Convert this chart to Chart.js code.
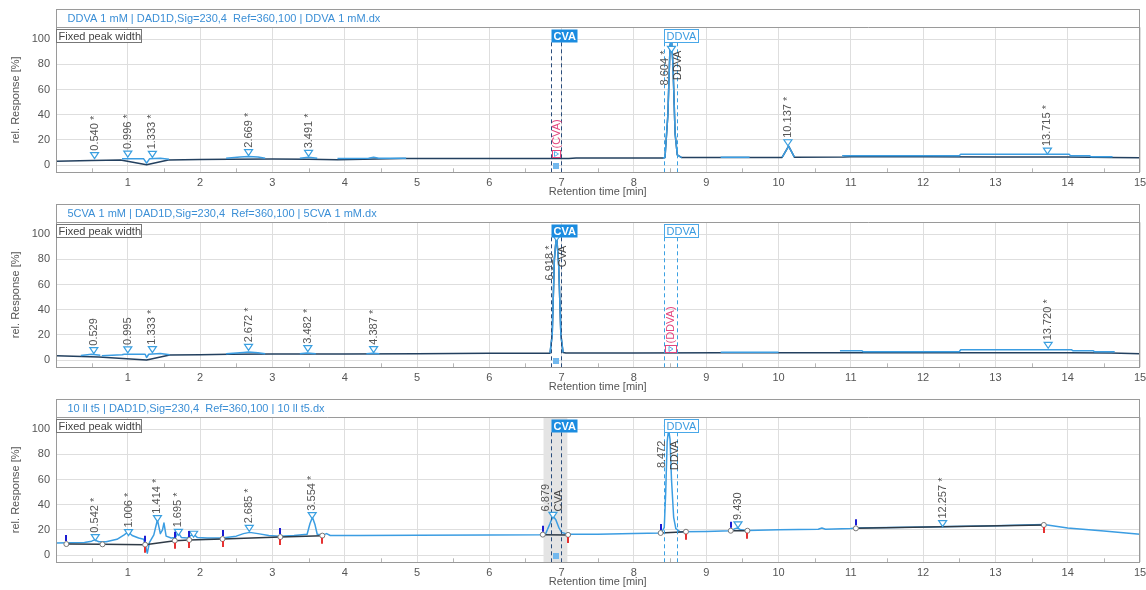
<!DOCTYPE html>
<html>
<head>
<meta charset="utf-8">
<script src="https://cdn.jsdelivr.net/npm/chart.js@4.4.1/dist/chart.umd.min.js"></script>
<style>
  html, body { margin: 0; padding: 0; background: #fff; }
  body { width: 1146px; height: 590px; position: relative; overflow: hidden; }
  .panel { position: absolute; left: 0; width: 1146px; height: 200px; }
</style>
</head>
<body>
<div class="panel" style="top:0px"><canvas id="chart1" width="1146" height="200"></canvas></div>
<div class="panel" style="top:195px"><canvas id="chart2" width="1146" height="200"></canvas></div>
<div class="panel" style="top:390px"><canvas id="chart3" width="1146" height="200"></canvas></div>

<script>
const FONT = '"Liberation Sans", Arial, sans-serif';
const TEXT = '#555';
const LIGHT = '#3b9de2';
const DARK = '#23405f';

// axis ticks
const xTicks = [1, 2, 3, 4, 5, 6, 7, 8, 9, 10, 11, 12, 13, 14, 15];
const yTicks = [0, 20, 40, 60, 80, 100];

// compound windows (CVA / DDVA)
const winName = ['CVA', 'DDVA'];
const winFrom = [6.85, 8.42];
const winTo = [6.99, 8.59];

// 1. DDVA 1 mM
const title1 = 'DDVA 1 mM | DAD1D,Sig=230,4  Ref=360,100 | DDVA 1 mM.dx';
const trace1T = [0.01, 0.5, 0.9, 1.26, 1.56, 2.0, 2.4, 3.0, 3.5, 3.9, 4.8, 6.0, 7.1, 7.2, 8.0, 8.4, 8.43, 8.47, 8.50, 8.52, 8.54, 8.57, 8.60, 8.66, 9.2, 10.05, 10.14, 10.22, 10.9, 11.0, 12.0, 13.0, 14.0, 14.3, 14.6, 15.0];
const trace1Y = [3.0, 3.5, 4.0, 0.2, 4.0, 4.3, 4.5, 4.8, 4.6, 4.2, 5.2, 5.2, 5.2, 5.5, 5.5, 5.6, 6, 40, 95, 100, 80, 25, 8, 5.9, 5.9, 6.0, 15, 6.2, 6.4, 6.6, 6.6, 6.4, 6.4, 6.2, 6.0, 5.8];
const seg1T = [0.92, 1.22, 1.26, 1.30, 1.45, 1.57, null, 2.36, 2.55, 2.67, 2.8, 2.9, null, 3.38, 3.5, 3.62, null, 3.9, 4.33, 4.4, 4.47, 4.85, null, 8.4, 8.43, 8.47, 8.50, 8.52, 8.54, 8.57, 8.60, 8.66, null, 9.2, 9.6, null, 10.05, 10.14, 10.22, null, 10.88, 12.5, 12.52, 14.02, 14.04, 14.3, 14.32, 14.62];
const seg1Y = [4.9, 4.9, 1.5, 4.9, 5.3, 4.5, null, 5.3, 6.3, 6.8, 6.3, 5.3, null, 5.3, 6.2, 5.3, null, 5.2, 5.3, 6.2, 5.3, 5.3, null, 5.6, 6, 40, 95, 100, 80, 25, 8, 5.9, null, 6.2, 6.2, null, 6.1, 15, 6.3, null, 7.4, 7.4, 8.5, 8.5, 7.4, 7.4, 6.6, 6.6];
const peak1X = [0.54, 1.0, 1.34, 2.67, 3.50, 8.52, 10.13, 13.72];
const peak1Y = [7.4, 8.7, 8.5, 9.8, 9.3, 92, 17.7, 11.1];
const peak1Label = ['0.540 *', '0.996 *', '1.333 *', '2.669 *', '3.491 *', '8.604 *', '10.137 *', '13.715 *'];
const peak1Name = ['', '', '', '', '', 'DDVA', '', ''];
const miss1Name = ['CVA'];

// 2. 5CVA 1 mM
const title2 = '5CVA 1 mM | DAD1D,Sig=230,4  Ref=360,100 | 5CVA 1 mM.dx';
const trace2T = [0.01, 0.6, 1.26, 1.58, 2.0, 2.4, 3.0, 4.0, 5.0, 6.0, 6.84, 6.87, 6.90, 6.93, 6.96, 6.99, 7.02, 7.06, 8.0, 9.2, 10.0, 12.0, 14.0, 14.6, 15.0];
const trace2Y = [3.4, 2.3, 0.0, 4.0, 4.2, 4.5, 4.8, 4.8, 5.0, 5.3, 5.4, 20, 80, 100, 75, 20, 6, 5.5, 5.6, 5.8, 5.8, 5.8, 5.8, 5.5, 5.0];
const seg2T = [0.35, 0.5, 0.62, null, 0.64, 0.92, 0.95, 1.24, 1.26, 1.29, 1.45, 1.58, null, 2.36, 2.6, 2.67, 2.8, 2.9, null, 3.38, 3.48, 3.6, null, 4.3, 4.39, 4.48, null, 6.84, 6.87, 6.90, 6.93, 6.96, 6.99, 7.02, null, 9.2, 10.0, null, 10.85, 11.15, 11.17, 12.5, 12.52, 14.05, 14.07, 14.35, 14.37, 14.65];
const seg2Y = [3.6, 4.5, 3.8, null, 3.4, 4.2, 4.6, 4.6, 2.0, 4.6, 5.2, 4.2, null, 5.0, 6.0, 6.3, 5.8, 5.0, null, 5.0, 5.6, 5.0, null, 5.0, 5.4, 5.0, null, 5.6, 20, 80, 100, 75, 20, 6, null, 6.2, 6.2, null, 7.4, 7.4, 6.6, 6.6, 8.2, 8.2, 7.4, 7.4, 6.6, 6.6];
const peak2X = [0.53, 1.0, 1.34, 2.67, 3.49, 4.40, 6.93, 13.73];
const peak2Y = [7.4, 8.0, 8.2, 10.1, 9.0, 8.2, 97, 11.7];
const peak2Label = ['0.529', '0.995', '1.333 *', '2.672 *', '3.482 *', '4.387 *', '6.918 *', '13.720 *'];
const peak2Name = ['', '', '', '', '', '', 'CVA', ''];
const miss2Name = ['DDVA'];

// 3. 10 ll t5
const title3 = '10 ll t5 | DAD1D,Sig=230,4  Ref=360,100 | 10 ll t5.dx';
const sig3T = [0.01, 0.4, 0.5, 0.54, 0.6, 0.7, 0.85, 0.95, 1.006, 1.06, 1.15, 1.22, 1.25, 1.27, 1.30, 1.36, 1.41, 1.45, 1.48, 1.50, 1.53, 1.6, 1.66, 1.695, 1.74, 1.82, 1.87, 1.91, 1.96, 2.1, 2.3, 2.5, 2.6, 2.685, 2.8, 2.95, 3.1, 3.3, 3.48, 3.52, 3.554, 3.59, 3.62, 3.7, 3.75, 3.8, 4.2, 5.0, 6.0, 6.7, 6.78, 6.84, 6.88, 6.92, 6.96, 7.0, 7.08, 7.5, 8.0, 8.38, 8.42, 8.44, 8.46, 8.48, 8.50, 8.52, 8.55, 8.58, 8.64, 9.0, 9.34, 9.40, 9.43, 9.48, 9.57, 10.0, 10.55, 10.6, 10.65, 11.0, 11.07, 12.0, 13.0, 13.67, 14.0, 14.5, 15.0];
const sig3Y = [9.5, 10.0, 11.0, 12.0, 10.5, 10.5, 12.5, 16.0, 18.5, 15.5, 13.5, 12.5, 6, 1.5, 10, 16, 28, 17, 20, 25.5, 15, 13.5, 14, 18, 14, 13.5, 15.5, 16.5, 14, 13.5, 13.5, 15, 17, 18, 17, 15.5, 15, 15.5, 16.5, 25, 30, 24, 16.5, 16, 17, 15.5, 15.5, 15.8, 16.0, 16.2, 17, 25, 31, 28, 22, 18, 16.5, 16.5, 17.2, 17.5, 22, 50, 90, 100, 92, 60, 30, 21, 18.5, 18.7, 19.3, 21, 21.5, 20, 19.5, 20, 20.5, 21.5, 20.5, 21, 21.5, 22.3, 23.2, 24.2, 21.5, 19, 16.5];
const base3T = [0.15, 0.65, 1.24, 1.65, 1.85, 2.31, 3.11, 3.69, null, 6.74, 7.09, null, 8.37, 8.72, null, 9.34, 9.57, null, 11.07, 13.67];
const base3Y = [8.7, 8.5, 8.2, 11.4, 12.0, 12.7, 14.3, 15.4, null, 16.2, 16.0, null, 17.5, 18.5, null, 19.3, 19.3, null, 21.2, 23.9];
const start3 = [0.15, 1.24, 1.65, 1.85, 2.31, 3.11, 6.74, 8.37, 9.34, 11.07];
const end3 = [1.24, 1.65, 1.85, 2.31, 3.11, 3.69, 7.09, 8.72, 9.57, 13.67];
const peak3X = [0.55, 1.01, 1.41, 1.70, 1.91, 2.68, 3.55, 6.88, 8.48, 9.44, 12.27];
const peak3Y = [13.8, 17.8, 28.9, 18, 16.5, 21.2, 31.3, 31.5, 100, 23.9, 25];
const peak3Label = ['0.542 *', '1.006 *', '1.414 *', '1.695 *', '', '2.685 *', '3.554 *', '6.879', '8.472', '9.430', '12.257 *'];
const peak3Name = ['', '', '', '', '', '', '', 'CVA', 'DDVA', '', ''];
const band3 = [6.75, 7.08];


// arrays -> {x, y}, null makes a gap
function toPoints(ts, ys) {
  let lastX = 0;
  return ts.map((t, i) => {
    if (t === null || ys[i] === null) return { x: lastX, y: null };
    lastX = t;
    return { x: t, y: ys[i] };
  });
}

// peak marker (down triangle)
function tri(ctx, px, py) {
  ctx.beginPath();
  ctx.moveTo(px - 4, py - 3);
  ctx.lineTo(px + 4, py - 3);
  ctx.lineTo(px, py + 3);
  ctx.closePath();
  ctx.fillStyle = '#fff';
  ctx.fill();
  ctx.lineWidth = 1.2;
  ctx.strokeStyle = '#3a9fe0';
  ctx.stroke();
}

// rotated text, reads bottom -> top
function vText(ctx, text, px, py, color, align) {
  ctx.save();
  ctx.translate(px, py);
  ctx.rotate(-Math.PI / 2);
  ctx.textAlign = align;
  ctx.textBaseline = 'middle';
  ctx.fillStyle = color;
  ctx.fillText(text, 0, 0);
  ctx.restore();
}

function line(ctx, x0, y0, x1, y1) {
  ctx.beginPath();
  ctx.moveTo(x0, y0);
  ctx.lineTo(x1, y1);
  ctx.stroke();
}

function panelPlugin(p) {
  return {
    id: 'panelDeco',
    beforeDatasetsDraw(chart) {
      const { ctx, chartArea: a, scales: { x } } = chart;
      ctx.save();
      // grey window band (panel 3)
      if (p.band) {
        const x0 = x.getPixelForValue(p.band[0]);
        const x1 = x.getPixelForValue(p.band[1]);
        ctx.fillStyle = '#e4e4e4';
        ctx.fillRect(x0, a.top, x1 - x0, a.bottom - a.top);
      }
      // minor ticks
      ctx.strokeStyle = '#b5b5b5';
      ctx.lineWidth = 1;
      xTicks.forEach(v => {
        const px = Math.round(x.getPixelForValue(v - 0.5)) + 0.5;
        line(ctx, px, a.bottom, px, a.bottom - 4);
      });
      ctx.restore();
    },
    afterDatasetsDraw(chart) {
      const { ctx, chartArea: a, scales: { x, y } } = chart;
      ctx.save();
      ctx.font = `11px ${FONT}`;

      // window dashed lines
      ctx.lineWidth = 1;
      ctx.setLineDash([4, 3]);
      winName.forEach((name, i) => {
        ctx.strokeStyle = name === 'CVA' ? '#2a4d7c' : '#3aa0e2';
        [winFrom[i], winTo[i]].forEach(v => {
          const px = Math.round(x.getPixelForValue(v)) + 0.5;
          line(ctx, px, a.top + 15, px, a.bottom);
        });
      });
      ctx.setLineDash([]);

      // peaks
      p.peakX.forEach((t, i) => {
        const px = x.getPixelForValue(t);
        const py = y.getPixelForValue(p.peakY[i]);
        tri(ctx, px, py);
        const name = p.names[i];
        if (!name) {
          if (p.labels[i]) vText(ctx, p.labels[i], px, py - 5, TEXT, 'left');
          return;
        }
        const tall = p.peakY[i] > 60;
        const base = tall ? y.getPixelForValue(91) : py - 4;
        const align = tall ? 'right' : 'left';
        vText(ctx, p.labels[i], px - 7, base, TEXT, align);
        vText(ctx, name, px + 6, base, '#444', align);
      });

      // expected but not found
      (p.miss || []).forEach(name => {
        const w = winName.indexOf(name);
        const x0 = Math.round(x.getPixelForValue(winFrom[w])) + 1.5;
        const x1 = Math.round(x.getPixelForValue(winTo[w])) - 0.5;
        const yb = Math.round(y.getPixelForValue(6.5)) + 0.5;
        ctx.strokeStyle = '#e2457e';
        ctx.lineWidth = 1;
        ctx.strokeRect(x0, yb - 7, x1 - x0, 7);
        const cx = (x0 + x1) / 2;
        ctx.beginPath();
        ctx.moveTo(cx - 2, yb - 6);
        ctx.lineTo(cx + 2, yb - 3.5);
        ctx.lineTo(cx - 2, yb - 1);
        ctx.closePath();
        ctx.strokeStyle = '#5aaee8';
        ctx.stroke();
        vText(ctx, `(${name})`, cx, yb - 9, '#e2457e', 'left');
      });

      // small square at the CVA window bottom
      const sq = x.getPixelForValue((winFrom[0] + winTo[0]) / 2);
      ctx.fillStyle = '#72b8ee';
      ctx.fillRect(Math.round(sq) - 3, Math.round(y.getPixelForValue(-1)) - 3, 6, 6);

      // integration start / end marks (panel 3)
      if (p.starts) {
        const nodeY = t => y.getPixelForValue(p.baseY[p.baseT.indexOf(t)]);
        ctx.lineWidth = 2;
        ctx.strokeStyle = '#1c1cd2';
        p.starts.forEach(t => {
          const px = Math.round(x.getPixelForValue(t));
          const py = nodeY(t);
          line(ctx, px, py - 9, px, py - 3);
        });
        ctx.strokeStyle = '#e53232';
        p.ends.forEach(t => {
          const px = Math.round(x.getPixelForValue(t));
          const py = nodeY(t);
          line(ctx, px, py + 2, px, py + 8);
        });
      }

      // window label boxes
      winName.forEach((name, i) => {
        const cva = name === 'CVA';
        const x0 = Math.round(x.getPixelForValue(winFrom[i])) + 0.5;
        ctx.font = `${cva ? 'bold ' : ''}11px ${FONT}`;
        const w = Math.round(ctx.measureText(name).width) + 4;
        const top = Math.round(a.top) + 2.5;
        ctx.fillStyle = cva ? '#1b8ce0' : '#fff';
        ctx.fillRect(x0, top, w, 13);
        if (!cva) {
          ctx.strokeStyle = '#4aa8e8';
          ctx.lineWidth = 1;
          ctx.strokeRect(x0, top, w, 13);
        }
        ctx.fillStyle = cva ? '#fff' : '#3a9be0';
        ctx.textAlign = 'left';
        ctx.textBaseline = 'middle';
        ctx.fillText(name, x0 + 2, top + 7);
      });

      // frame + title strip
      const L = Math.round(a.left) + 0.5;
      const R = Math.round(a.right) - 0.5;
      const T = 9.5;
      const S = Math.round(a.top) + 0.5;
      const B = Math.round(a.bottom) + 0.5;
      ctx.strokeStyle = '#9a9a9a';
      ctx.lineWidth = 1;
      ctx.strokeRect(L, T, R - L, B - T);
      line(ctx, L, S, R, S);
      ctx.font = `11px ${FONT}`;
      ctx.fillStyle = '#3b8fd6';
      ctx.textAlign = 'left';
      ctx.textBaseline = 'middle';
      ctx.fillText(p.title, 67.5, (T + S) / 2 + 0.5);

      // "Fixed peak width" box
      ctx.fillStyle = '#fff';
      ctx.fillRect(L, S + 2, 85, 13);
      ctx.strokeStyle = '#777';
      ctx.strokeRect(L, S + 2, 85, 13);
      ctx.fillStyle = '#444';
      ctx.fillText('Fixed peak width', L + 2, S + 9);
      ctx.restore();
    }
  };
}

function makePanel(id, datasets, deco) {
  return new Chart(document.getElementById(id), {
    type: 'line',
    data: { datasets },
    options: {
      responsive: false,
      animation: false,
      devicePixelRatio: 1,
      layout: { padding: { top: 27.3, right: 6, left: 0, bottom: 0 } },
      plugins: { legend: { display: false }, tooltip: { enabled: false } },
      elements: {
        point: { radius: 0 },
        line: { tension: 0, borderWidth: 1.5, borderJoinStyle: 'round' }
      },
      scales: {
        x: {
          type: 'linear',
          min: 0,
          max: 15,
          afterBuildTicks: s => { s.ticks = xTicks.map(v => ({ value: v })); },
          // fixed height, no extra side padding for the "15" label
          afterFit: s => { s.height = 27.7; s.paddingLeft = 0; s.paddingRight = 0; },
          ticks: { padding: 4, color: TEXT, maxRotation: 0, autoSkip: false, font: { family: FONT, size: 11 } },
          grid: { color: '#dedede', drawTicks: false },
          border: { display: false },
          title: { display: true, text: 'Retention time [min]', color: TEXT, font: { family: FONT, size: 11 }, padding: { top: 0, bottom: 1 } }
        },
        y: {
          min: -5.8,
          max: 109.5,
          afterBuildTicks: s => { s.ticks = yTicks.map(v => ({ value: v })); },
          afterFit: s => { s.width = 55.5; s.paddingTop = 0; s.paddingBottom = 0; },
          ticks: { padding: 5.5, color: TEXT, font: { family: FONT, size: 11 } },
          grid: { color: '#dedede', drawTicks: false },
          border: { display: false },
          title: { display: true, text: 'rel. Response [%]', color: TEXT, font: { family: FONT, size: 11 }, padding: { top: 9, bottom: 0 } }
        }
      }
    },
    plugins: [panelPlugin(deco)]
  });
}

// 패널 1
makePanel('chart1', [
  { data: toPoints(seg1T, seg1Y), borderColor: LIGHT, order: 1 },
  { data: toPoints(trace1T, trace1Y), borderColor: DARK, order: 2 }
], { title: title1, peakX: peak1X, peakY: peak1Y, labels: peak1Label, names: peak1Name, miss: miss1Name });

// 패널 2
makePanel('chart2', [
  { data: toPoints(seg2T, seg2Y), borderColor: LIGHT, order: 1 },
  { data: toPoints(trace2T, trace2Y), borderColor: DARK, order: 2 }
], { title: title2, peakX: peak2X, peakY: peak2Y, labels: peak2Label, names: peak2Name, miss: miss2Name });

// 패널 3
makePanel('chart3', [
  {
    data: toPoints(base3T, base3Y), borderColor: '#2f3b47', order: 1,
    pointRadius: 2.5, pointBackgroundColor: '#fff', pointBorderColor: '#777', pointBorderWidth: 1
  },
  { data: toPoints(sig3T, sig3Y), borderColor: LIGHT, order: 2 }
], {
  title: title3, peakX: peak3X, peakY: peak3Y, labels: peak3Label, names: peak3Name,
  band: band3, starts: start3, ends: end3, baseT: base3T, baseY: base3Y
});
</script>
</body>
</html>
